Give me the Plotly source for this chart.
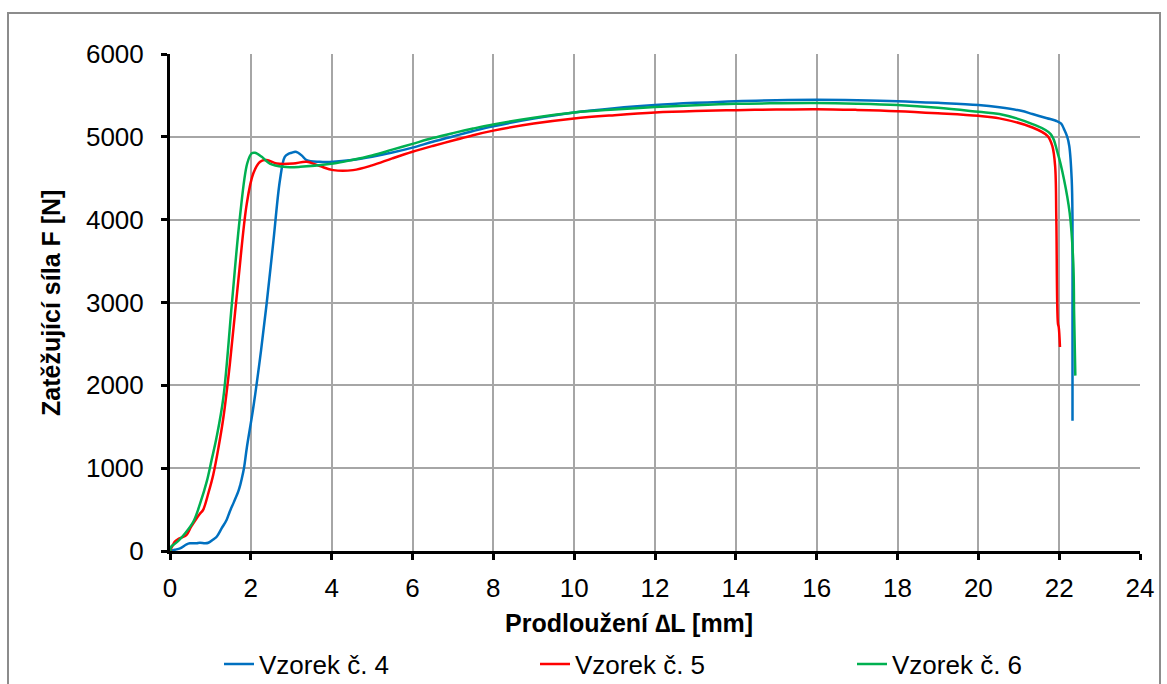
import plotly.graph_objects as go

# ---- data ----
x4 = [0, 0.12, 0.25, 0.41, 0.49, 0.66, 0.74, 0.87, 0.95, 1.07, 1.16, 1.28, 1.40, 1.48, 1.58, 1.69, 1.74, 1.77, 1.83, 1.90,
      2.06, 2.23, 2.39, 2.56, 2.72, 2.84, 2.93, 3.01, 3.10, 3.17, 3.27, 3.38, 3.71, 4.04, 4.5, 5.0, 5.5, 6.0, 6.5, 7.0, 7.5,
      8, 9, 10, 11, 12, 13, 14, 15, 16, 17, 18, 19, 20, 20.52, 21.06, 21.34, 21.7, 21.92, 22.05, 22.12, 22.2, 22.25, 22.31,
      22.33, 22.33, 22.33]
f4 = [0, 15, 32, 80, 93, 95, 100, 93, 100, 140, 175, 275, 375, 477, 590, 719, 800, 861, 1000, 1244,
      1729, 2335, 2982, 3749, 4476, 4759, 4795, 4808, 4820, 4808, 4770, 4719, 4699, 4699, 4720, 4760, 4810, 4870, 4940, 5005, 5070,
      5128, 5220, 5294, 5345, 5383, 5410, 5431, 5442, 5447, 5442, 5431, 5410, 5383, 5356, 5314, 5275, 5225, 5194, 5160, 5093, 5000, 4890, 4486,
      4000, 2866, 1571]

x5 = [0, 0.06, 0.12, 0.16, 0.22, 0.3, 0.41, 0.52, 0.66, 0.74, 0.82, 0.95, 1.07, 1.2, 1.32, 1.48, 1.69, 1.90,
      2.06, 2.23, 2.39, 2.64, 3.05, 3.38, 3.71, 4.04, 4.53, 5.0, 5.5, 6.0, 6.5, 7.0, 7.5,
      8, 9, 10, 11, 12, 13, 14, 15, 16, 17, 18, 19, 20, 20.52, 21.34, 21.71, 21.83, 21.90, 21.93, 21.97, 21.99, 22.02]
f5 = [0, 60, 113, 130, 150, 165, 194, 290, 396, 450, 497, 700, 921, 1250, 1608, 2254, 3264, 4194,
      4557, 4699, 4719, 4678, 4678, 4699, 4646, 4598, 4598, 4655, 4740, 4820, 4890, 4955, 5020,
      5075, 5160, 5222, 5262, 5294, 5312, 5322, 5330, 5334, 5325, 5310, 5285, 5254, 5223, 5113, 5012, 4890, 4648, 4000, 2745, 2700, 2462]

x6 = [0, 0.04, 0.08, 0.2, 0.35, 0.58, 0.75, 0.91, 1.03, 1.15, 1.32, 1.53, 1.73, 1.91,
      2.02, 2.10, 2.27, 2.47, 2.80, 3.22, 4.04, 4.5, 5.0, 5.5, 6.0, 6.5, 7.0, 7.5,
      8, 9, 10, 11, 12, 13, 14, 15, 16, 17, 18, 19, 20, 20.52, 21.34, 21.79, 21.96, 22.12, 22.26, 22.35, 22.37, 22.40]
f6 = [0, 60, 73, 120, 200, 356, 580, 840, 1100, 1366, 1850, 2982, 4032, 4678,
      4800, 4808, 4759, 4678, 4638, 4638, 4678, 4720, 4775, 4845, 4915, 4985, 5045, 5100,
      5150, 5230, 5294, 5330, 5359, 5382, 5399, 5405, 5407, 5399, 5383, 5350, 5302, 5275, 5154, 5032, 4810, 4486, 4081, 3474, 2866, 2117]

series_names = ["Vzorek č. 4", "Vzorek č. 5", "Vzorek č. 6"]
series_colors = ["#0070C0", "#FF0000", "#00B050"]

x_ticks = list(range(0, 25, 2))
y_ticks = list(range(0, 6001, 1000))

FONT = "Liberation Sans, Arial, sans-serif"

# plot-area geometry (pixels)
L, R, T, B = 170, 1140, 54, 551
PW, PH = R - L, B - T

def px_x(p):
    return (p - L) / PW

def px_y(p):
    return (B - p) / PH

legend_ids = ["legend", "legend2", "legend3"]
legend_px = [219, 535, 852]

fig = go.Figure()
for xs, fs, name, col, lid in zip([x4, x5, x6], [f4, f5, f6], series_names, series_colors, legend_ids):
    fig.add_trace(go.Scatter(x=xs, y=fs, mode="lines", name=name, legend=lid,
                             line=dict(color=col, width=2.5), line_shape="spline"))

axis_common = dict(showline=True, linecolor="black", linewidth=3,
                   ticks="outside", ticklen=6, tickwidth=3, tickcolor="black",
                   showgrid=True, gridcolor="#a6a6a6", gridwidth=1.5, zeroline=False,
                   tickfont=dict(family=FONT, size=26, color="black"))

fig.update_xaxes(range=[0, 24], tickvals=x_ticks, ticklabelstandoff=6, **axis_common)
fig.update_yaxes(range=[0, 6000], tickvals=y_ticks, ticklabelstandoff=12, **axis_common)

legend_style = dict(orientation="h", yanchor="middle", xanchor="left",
                    font=dict(family=FONT, size=26, color="black"),
                    bgcolor="rgba(0,0,0,0)", borderwidth=0)

fig.update_layout(
    width=1167, height=684,
    margin=dict(l=L, r=1167 - R, t=T, b=684 - B, autoexpand=False),
    paper_bgcolor="white", plot_bgcolor="white",
    font=dict(family=FONT, color="black"),
    showlegend=True,
    legend=dict(x=px_x(legend_px[0]), y=px_y(664), **legend_style),
    legend2=dict(x=px_x(legend_px[1]), y=px_y(664), **legend_style),
    legend3=dict(x=px_x(legend_px[2]), y=px_y(664), **legend_style),
    annotations=[
        dict(text="<b>Prodloužení ∆L [mm]</b>", xref="paper", yref="paper",
             x=px_x(629), y=px_y(623), showarrow=False,
             xanchor="center", yanchor="middle", font=dict(family=FONT, size=25)),
        dict(text="<b>Zatěžující síla F [N]</b>", xref="paper", yref="paper",
             x=px_x(51), y=px_y(303), showarrow=False, textangle=-90,
             xanchor="center", yanchor="middle", font=dict(family=FONT, size=25)),
    ],
    shapes=[
        dict(type="rect", xref="paper", yref="paper",
             x0=px_x(8), x1=px_x(1160), y0=px_y(720), y1=px_y(13),
             line=dict(color="#8c8c8c", width=2), fillcolor="rgba(0,0,0,0)", layer="below"),
    ],
)

fig.write_html("out.html")
